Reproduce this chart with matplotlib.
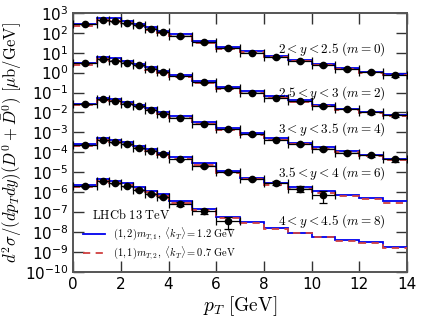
import numpy as np
import matplotlib
matplotlib.use("Agg")
import matplotlib.pyplot as plt

plt.rcParams['mathtext.fontset'] = 'cm'

# pT bin edges (GeV)
edges = [0, 1, 1.5, 2, 2.5, 3, 3.5, 4, 5, 6, 7, 8, 9, 10, 11, 12, 13, 14]

# rapidity bins and their scale exponents m (plotted as value * 10^-m)
y_labels = [r"$2<y<2.5\ (m=0)$", r"$2.5<y<3\ (m=2)$", r"$3<y<3.5\ (m=4)$",
            r"$3.5<y<4\ (m=6)$", r"$4<y<4.5\ (m=8)$"]
m_vals = [0, 2, 4, 6, 8]
label_y = [15.0, 9.5e-2, 1.4e-3, 9e-6, 3.5e-8]

# LHCb data (unscaled, mub/GeV)
data_1 = [263, 427, 380, 295, 234, 158, 112, 68, 34, 17.4, 10.2, 5.8, 3.8, 2.45, 1.55, 1.05, 0.72]
data_2 = [288, 479, 389, 309, 229, 155, 110, 65, 32, 17.0, 10.0, 5.6, 3.6, 2.14, 1.51, 1.0, 0.72]
data_3 = [263, 468, 380, 282, 209, 141, 89, 56, 28, 14.1, 7.9, 4.4, 2.75, 1.55, 0.98, 0.72, 0.44]
data_4 = [245, 407, 331, 263, 166, 123, 87, 44, 21, 10.5, 4.7, 2.95, 1.51, 0.71]
data_5 = [200, 355, 275, 200, 126, 85, 58, 27, 11.2, 3.5]

# relative uncertainties
err_1 = [0.08, 0.06, 0.06, 0.06, 0.06, 0.06, 0.06, 0.06, 0.07, 0.07, 0.08, 0.08, 0.1, 0.1, 0.12, 0.14, 0.16]
err_2 = [0.08, 0.06, 0.06, 0.06, 0.06, 0.06, 0.06, 0.06, 0.07, 0.07, 0.08, 0.09, 0.1, 0.11, 0.13, 0.15, 0.18]
err_3 = [0.08, 0.06, 0.06, 0.06, 0.06, 0.06, 0.06, 0.07, 0.07, 0.08, 0.09, 0.1, 0.12, 0.14, 0.16, 0.2, 0.25]
err_4 = [0.08, 0.06, 0.06, 0.07, 0.07, 0.07, 0.08, 0.09, 0.1, 0.12, 0.15, 0.2, 0.3, 0.6]
err_5 = [0.1, 0.08, 0.08, 0.08, 0.09, 0.1, 0.12, 0.2, 0.3, 0.6]

# theory, (1,2) m_T,1 <kT>=1.2 GeV
blue_1 = [263, 575, 537, 398, 282, 186, 129, 83, 40, 20, 12.6, 6.9, 4.3, 2.7, 1.66, 1.12, 0.83]
blue_2 = [295, 603, 525, 389, 275, 182, 126, 78, 38, 19, 11.5, 6.5, 4.0, 2.45, 1.58, 1.07, 0.76]
blue_3 = [275, 550, 479, 355, 251, 166, 110, 69, 33, 16.2, 9.1, 5.0, 3.0, 1.82, 1.15, 0.76, 0.46]
blue_4 = [263, 513, 437, 316, 214, 145, 98, 60, 28, 11.2, 5.2, 2.9, 1.74, 1.12, 0.76, 0.51, 0.35]
blue_5 = [224, 457, 380, 275, 182, 120, 79, 35, 14.1, 6.0, 3.3, 1.66, 0.95, 0.60, 0.42, 0.33, 0.17]

# theory, (1,1) m_T,2 <kT>=0.7 GeV
red_1 = [224, 437, 407, 302, 214, 141, 98, 66, 32, 15.8, 10.5, 5.75, 3.63, 2.29, 1.45, 0.98, 0.72]
red_2 = [240, 457, 398, 295, 209, 138, 95, 62, 30, 15.1, 9.5, 5.4, 3.4, 2.09, 1.38, 0.93, 0.66]
red_3 = [229, 427, 372, 275, 195, 129, 87, 56, 27, 13.2, 7.6, 4.3, 2.57, 1.55, 1.0, 0.66, 0.40]
red_4 = [214, 398, 339, 245, 166, 115, 78, 49, 23.4, 9.3, 4.4, 2.4, 1.48, 0.95, 0.66, 0.45, 0.30]
red_5 = [186, 355, 302, 219, 145, 98, 66, 30, 12.3, 5.2, 2.95, 1.51, 0.87, 0.55, 0.38, 0.30, 0.16]

datas = [data_1, data_2, data_3, data_4, data_5]
errs = [err_1, err_2, err_3, err_4, err_5]
blues = [blue_1, blue_2, blue_3, blue_4, blue_5]
reds = [red_1, red_2, red_3, red_4, red_5]

BLUE = '#0000ee'
RED = '#d04040'
DASH = (0, (4, 3))

fig = plt.figure(figsize=(4.23, 3.2), dpi=100)
ax = fig.add_axes([0.173, 0.15, 0.789, 0.81])

edges = np.array(edges)
centers = 0.5 * (edges[1:] + edges[:-1])
halfw = 0.5 * (edges[1:] - edges[:-1])

for i in range(5):
    s = 10.0 ** (-m_vals[i])
    d = np.array(datas[i]) * s
    n = len(d)
    e = np.array(errs[i]) * d
    # gray uncertainty boxes
    for j in range(n):
        ax.fill_between([edges[j], edges[j + 1]], d[j] * 0.93, d[j] * 1.07,
                        color='gray', alpha=0.5, lw=0, zorder=2)
    ax.stairs(np.array(blues[i]) * s, edges, baseline=None, color=BLUE,
              lw=1.3, zorder=3)
    ax.stairs(np.array(reds[i]) * s, edges, baseline=None, color=RED,
              lw=1.3, ls=DASH, zorder=3)
    ax.errorbar(centers[:n], d, xerr=halfw[:n], yerr=e, fmt='o', color='black',
                ms=4.5, lw=0.9, capsize=3, capthick=0.9, zorder=4)
    ax.text(13.1, label_y[i], y_labels[i], ha='right', va='center', fontsize=9.5)

ax.set_yscale('log')
ax.set_xlim(0, 14)
ax.set_ylim(1e-10, 1e3)
ax.set_xticks(range(0, 15, 2))
ax.set_yticks([10.0 ** k for k in range(-10, 4)])
ax.yaxis.set_minor_locator(matplotlib.ticker.NullLocator())
ax.tick_params(direction='in', length=8, width=1, top=True, right=True,
               labelsize=11, color='#333333')
for sp in ax.spines.values():
    sp.set_color('#555555')
    sp.set_linewidth(1.4)

ax.set_xlabel(r"$p_T\ [\mathrm{GeV}]$", fontsize=14, labelpad=2)
ax.set_ylabel(r"$d^2\sigma/(dp_Tdy)(D^0+\bar{D}^0)\ [\mu\mathrm{b/GeV}]$",
              fontsize=12, labelpad=1)

# legend drawn by hand
ax.text(0.056, 0.22, r"$\mathrm{LHCb\ 13\ TeV}$", transform=ax.transAxes,
        ha='left', va='center', fontsize=9)
ax.plot([0.029, 0.096], [0.147, 0.147], transform=ax.transAxes, color=BLUE, lw=1.3)
ax.plot([0.029, 0.096], [0.073, 0.073], transform=ax.transAxes, color=RED, lw=1.3, ls=DASH)
ax.text(0.12, 0.147, r"$(1,2)m_{T,1},\ \langle k_T\rangle = 1.2\ \mathrm{GeV}$",
        transform=ax.transAxes, ha='left', va='center', fontsize=7.5)
ax.text(0.12, 0.073, r"$(1,1)m_{T,2},\ \langle k_T\rangle = 0.7\ \mathrm{GeV}$",
        transform=ax.transAxes, ha='left', va='center', fontsize=7.5)

fig.savefig("out.png", dpi=100)
